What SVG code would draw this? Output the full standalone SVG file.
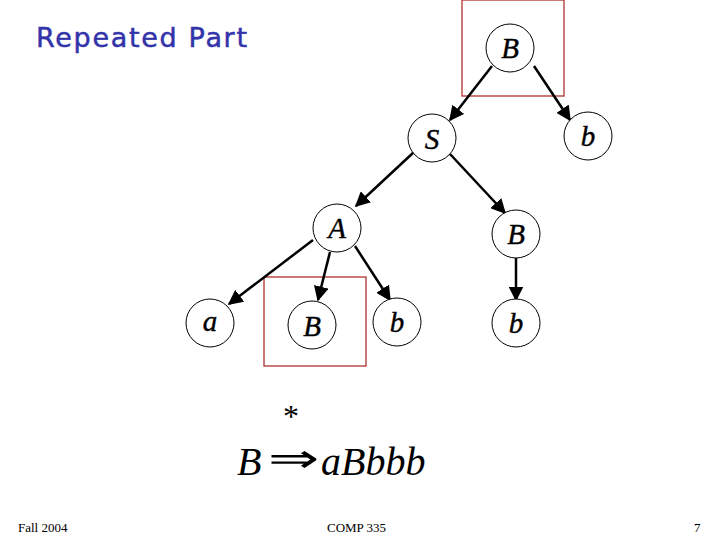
<svg xmlns="http://www.w3.org/2000/svg" width="720" height="540" viewBox="0 0 720 540">
<style>
.n{fill:#fff;stroke:#000;stroke-width:1}
.l{font-family:"Liberation Serif",serif;font-style:italic;font-size:29px;text-anchor:middle;stroke:#000;stroke-width:0.4}
.e{stroke:#000;stroke-width:2.5;fill:none;marker-end:url(#ah)}
.box{fill:none;stroke:#b03030;stroke-width:1.3}
.f{font-family:"Liberation Serif",serif;font-size:13px}
.m{font-family:"Liberation Serif",serif;font-style:italic;font-size:40px}
</style>
<defs>
<marker id="ah" viewBox="0 0 10 10" refX="9" refY="5" markerWidth="6" markerHeight="6" orient="auto" markerUnits="strokeWidth">
<path d="M0,0 L10,5 L0,10 z" fill="#000"/>
</marker>
</defs>
<rect width="720" height="540" fill="#fff"/>
<text x="36" y="47" font-family="'Comic Sans MS','DejaVu Sans',sans-serif" font-size="27" fill="#3333aa" textLength="211" stroke="#3333aa" stroke-width="0.5">Repeated Part</text>
<rect class="box" x="462" y="0" width="102" height="96"/>
<rect class="box" x="264" y="277" width="102" height="89"/>
<g id="connectors">
<line class="e" x1="492" y1="66" x2="450" y2="120"/>
<line class="e" x1="534" y1="66" x2="570" y2="120"/>
<line class="e" x1="414" y1="152" x2="356" y2="206"/>
<line class="e" x1="450" y1="154" x2="505" y2="213"/>
<line class="e" x1="313" y1="240" x2="229" y2="304"/>
<line class="e" x1="330" y1="252" x2="318" y2="300"/>
<line class="e" x1="355" y1="246" x2="390" y2="300"/>
<line class="e" x1="516" y1="258" x2="516" y2="300"/>
</g>
<g id="nB1"><circle class="n" cx="510" cy="48" r="24"/><text class="l" x="510" y="58">B</text></g>
<g id="nS"><circle class="n" cx="432" cy="138" r="24"/><text class="l" x="432" y="149">S</text></g>
<g id="nb1"><circle class="n" cx="588" cy="136" r="24"/><text class="l" x="588" y="146">b</text></g>
<g id="nA"><circle class="n" cx="337" cy="228" r="24"/><text class="l" x="337" y="238">A</text></g>
<g id="nB2"><circle class="n" cx="516" cy="234" r="24"/><text class="l" x="516" y="244">B</text></g>
<g id="na"><circle class="n" cx="210" cy="323" r="24"/><text class="l" x="210" y="331">a</text></g>
<g id="nB3"><circle class="n" cx="312" cy="325" r="24"/><text class="l" x="312" y="336">B</text></g>
<g id="nb2"><circle class="n" cx="397" cy="322" r="24"/><text class="l" x="397" y="332">b</text></g>
<g id="nb3"><circle class="n" cx="516" cy="323" r="24"/><text class="l" x="516" y="333">b</text></g>
<text x="291" y="427" font-family="'Liberation Serif',serif" font-size="32" text-anchor="middle">*</text>
<text class="m" x="237" y="475">B</text>
<text x="268" y="472" font-family="'Liberation Serif',serif" font-size="40" textLength="52" lengthAdjust="spacingAndGlyphs">⇒</text>
<text class="m" x="321" y="475">aBbbb</text>
<text class="f" x="18" y="532">Fall 2004</text>
<text class="f" x="327" y="532">COMP 335</text>
<text class="f" x="694" y="532">7</text>
</svg>
